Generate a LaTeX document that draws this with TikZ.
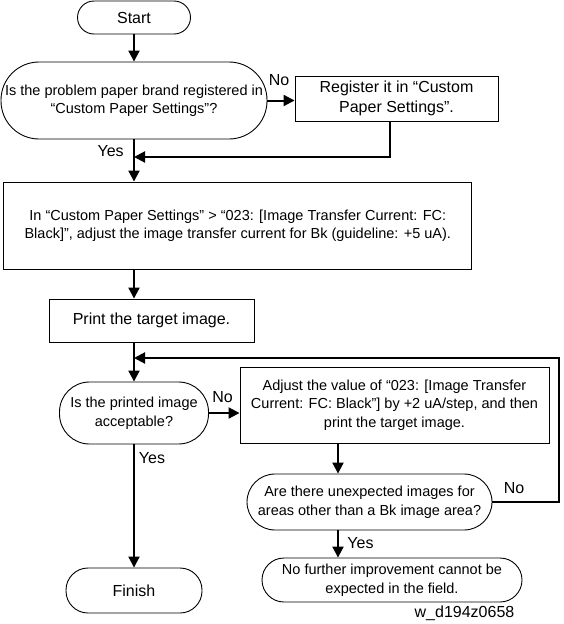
\documentclass[tikz,border=0pt]{standalone}
\usepackage{fontspec}
\setmainfont{Liberation Sans}
\usetikzlibrary{arrows.meta}
\begin{document}
\begin{tikzpicture}[x=1pt,y=-1pt,
  base/.style={draw, line width=0.9pt, inner sep=0pt, align=center, font=\fontsize{14.5}{18.5}\selectfont},
  proc/.style={base, rectangle},
  term/.style={base, rectangle, rounded corners=#1},
  big/.style={font=\fontsize{16}{20}\selectfont},
  conn/.style={line width=2pt},
  arr/.style={conn, -{Triangle[length=11pt,width=11pt]}},
  lab/.style={inner sep=0pt, font=\fontsize{16}{20}\selectfont}]
\useasboundingbox (0,0) rectangle (563,624);

\node[term=16.5pt, big, minimum width=113pt, minimum height=33pt] (start) at (134,17.5) {Start};
\node[term=38pt, minimum width=266pt, minimum height=77pt] (d1) at (134,100.5) {Is the problem paper brand registered in\\“Custom Paper Settings”?};
\node[proc, big, minimum width=203pt, minimum height=45pt] (reg) at (396.5,98.5) {Register it in “Custom\\Paper Settings”.};
\node[proc, minimum width=468pt, minimum height=87pt] (box2) at (237.8,225.5) {In “Custom Paper Settings” > “023: [Image Transfer Current: FC:\\Black]”, adjust the image transfer current for Bk (guideline: +5 uA).};
\node[proc, big, minimum width=205pt, minimum height=43pt] (box3) at (151.5,320.5) {Print the target image.};
\node[term=30pt, minimum width=149pt, minimum height=62pt] (d2) at (134,413) {Is the printed image\\acceptable?};
\node[proc, minimum width=309pt, minimum height=76pt] (box4) at (394.5,405) {Adjust the value of “023: [Image Transfer\\Current: FC: Black”] by +2 uA/step, and then\\print the target image.};
\node[term=28pt, minimum width=245pt, minimum height=56pt] (d3) at (369.5,502) {Are there unexpected images for\\areas other than a Bk image area?};
\node[term=22pt, minimum width=260pt, minimum height=44pt] (box5) at (392,580) {No further improvement cannot be\\expected in the field.};
\node[term=22pt, big, minimum width=136pt, minimum height=45pt] (finish) at (134,590.5) {Finish};

\coordinate (j1) at (134,157);
\coordinate (j2) at (134,358);
\coordinate (rt) at (559,358);

\draw[arr] (start.south) -- (d1.north);
\draw[arr] (d1.east) -- (d1.east -| reg.west);
\draw[arr] ([xshift=-6.5pt]reg.south) |- (j1);
\draw[arr] (d1.south) -- (box2.north -| d1.south);
\draw[arr] (box2.south -| d1.south) -- (box3.north -| d1.south);
\draw[arr] (box3.south -| d2.north) -- (d2.north);
\draw[arr] (d2.east) -- (d2.east -| box4.west);
\draw[arr] ([xshift=-56.5pt]box4.south) -- ([xshift=-56.5pt]box4.south |- d3.north);
\draw[arr] (d3.east) -| (rt) -- (j2);
\draw[arr] ([xshift=-31.5pt]d3.south) -- ([xshift=-31.5pt]d3.south |- box5.north);
\draw[arr] (d2.south) -- (finish.north);

\node[lab] (no1) at (279,80) {No};
\node[lab] (yes1) at (110.6,151) {Yes};
\node[lab] (no2) at (222.6,397) {No};
\node[lab] (yes2) at (152,458) {Yes};
\node[lab] (no3) at (514,488) {No};
\node[lab] (yes3) at (360.5,543) {Yes};
\node[lab] (code) at (464.5,613) {w\_d194z0658};
\end{tikzpicture}
\end{document}
